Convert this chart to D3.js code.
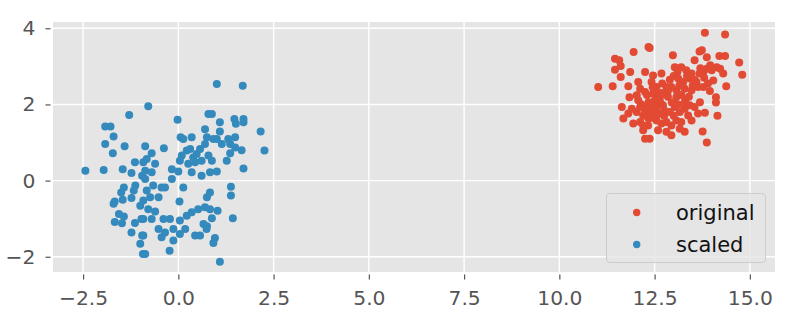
<!DOCTYPE html>
<html>
<head>
<meta charset="utf-8">
<script src="https://cdn.jsdelivr.net/npm/d3@7"></script>
<style>
  body { margin: 0; background: #fff; }
  text { font-family: "DejaVu Sans", sans-serif; }
</style>
</head>
<body>
<div id="chart"></div>
<script>
// original points (x, y)
var original = [
  [11.95,3.38],[12.34,3.51],[11.46,3.20],[11.57,3.16],[11.46,2.91],[11.61,3.01],[11.86,2.85],[11.61,2.72],
  [11.02,2.46],[11.40,2.48],[11.81,2.48],[12.07,2.59],[12.25,2.85],[11.84,2.19],[11.64,1.93],[11.68,1.63],
  [11.94,1.50],[12.20,1.32],[12.25,1.10],[12.07,2.11],[12.03,1.80],[11.81,1.76],
  [13.82,3.88],[14.35,3.84],[14.72,3.10],[14.80,2.78],[14.38,2.48],[14.11,2.19],[14.11,2.05],[14.15,1.70],
  [13.82,1.78],[13.76,1.29],[13.87,1.00],[14.20,3.27],[14.35,3.27],[13.74,3.42],[13.87,3.24],[14.13,2.98],
  [14.22,2.94],[14.30,2.81],[14.04,2.63],[13.78,2.85],[13.87,2.94],[13.96,3.03],[13.78,2.46],[13.69,2.06],
  [12.37,3.48],[12.98,3.29],[13.55,3.16],[13.68,3.39],[12.68,2.81],[13.03,2.98],[13.20,2.98],[13.33,2.90],
  [13.47,2.81],[13.12,2.68],[13.25,2.59],[13.42,2.68],[13.60,2.59],[13.68,2.81],[12.94,2.46],[13.07,2.37],
  [13.29,2.41],[13.47,2.37],[13.64,2.46],[12.46,2.76],[12.42,2.59],[12.55,2.46],[12.46,2.28],[12.64,2.19],
  [12.81,2.46],[13.07,2.19],[12.37,2.02],[12.55,1.93],[12.72,1.98],[13.03,1.93],[13.16,1.80],[13.29,1.89],
  [13.42,1.98],[13.55,1.93],[13.64,1.76],[13.38,1.71],[13.47,1.58],[12.55,1.58],[12.68,1.50],[12.81,1.54],
  [12.94,1.45],[13.07,1.58],[13.20,1.54],[12.59,1.32],[12.81,1.28],[12.94,1.19],[13.16,1.36],[13.29,1.28],
  [12.37,1.10],[12.33,1.80],[12.33,1.45],[12.12,2.41],[12.25,2.33],[12.03,2.24],[12.34,2.06],[12.12,1.93],
  [12.25,1.80],[12.34,1.63],[12.12,1.54],[11.90,1.89],[12.20,1.45],
  [12.60,2.30],[12.70,2.55],[12.90,2.65],[13.00,2.75],[12.85,2.20],[12.95,2.05],[13.10,2.00],[12.50,2.10],
  [12.40,1.90],[12.60,1.75],[12.75,1.70],[12.90,1.80],[13.30,2.10],[13.40,2.20],[13.50,2.50],[13.35,2.75],
  [12.15,2.00],[12.30,2.25],[12.45,1.65],[12.20,1.70],[13.80,2.70],[13.90,2.55],[14.00,2.90],[13.95,2.35],
  [12.50,2.40],[12.65,2.05],[12.75,1.85],[12.85,2.35],[13.15,2.50],[13.20,2.25],[12.40,1.75],[12.55,1.80],
  [13.10,2.85],[13.55,2.65],[13.70,2.95],[12.70,2.30],[12.30,1.95],[13.25,2.00],[13.00,1.70],[12.45,2.45]
];

// scaled points (x, y)
var scaled = [
  [-1.29,1.72],[-1.92,1.42],[-1.78,1.42],[-1.70,1.16],[-1.92,0.96],[-1.41,0.90],[-1.72,0.72],[-2.44,0.26],
  [-1.96,0.28],[-1.46,0.30],[-1.14,0.48],[-1.23,0.20],[-0.95,0.13],[-1.13,-0.13],[-1.17,-0.26],[-1.43,-0.18],
  [-1.50,-0.31],[-1.23,-0.46],[-1.67,-0.55],[-1.70,-0.61],[-1.46,-0.50],[-1.00,-0.66],[-1.56,-0.88],[-1.43,-0.94],
  [-1.67,-1.09],[-1.48,-1.12],[-1.14,-1.11],[-0.97,-1.01],[-1.23,-1.36],[-1.00,-1.66],[-0.95,-1.44],[-0.93,-1.93],
  [-0.79,1.95],[-0.02,1.60],[0.79,1.75],[0.06,1.14],[0.13,1.09],[0.35,1.14],[0.70,1.35],[-0.87,0.90],
  [-0.70,0.72],[-0.38,0.85],[0.22,0.79],[0.31,0.83],[0.09,0.66],[0.04,0.52],[0.39,0.61],[0.48,0.70],
  [0.57,0.83],[0.26,0.44],[0.44,0.48],[0.61,0.52],[0.35,0.22],[0.61,0.13],[-0.17,0.30],[0.00,0.24],
  [-0.17,0.04],[-0.92,0.48],[-0.83,0.57],[-0.61,0.44],[-0.87,0.26],[-0.70,0.22],[-0.87,0.04],[-0.66,-0.13],
  [-0.44,-0.18],[-0.35,-0.18],[-0.83,-0.26],[-0.74,-0.44],[-0.52,-0.44],[-0.92,-0.52],[0.13,-0.18],[0.03,-0.55],
  [-0.61,-0.81],[-0.79,-0.75],[-0.92,-1.01],[-0.70,-1.01],[-0.39,-1.01],[-0.22,-1.01],[0.04,-1.05],[0.22,-0.92],
  [0.35,-0.83],[0.52,-0.75],[0.70,-0.70],[-0.52,-1.27],[-0.35,-1.36],[-0.13,-1.27],[0.04,-1.40],[0.18,-1.27],
  [-0.44,-1.49],[-0.13,-1.57],[0.44,-1.44],[0.57,-1.44],[-0.92,-1.44],[-0.87,-1.93],[-0.23,-1.84],[0.66,-1.14],
  [0.74,-1.27],
  [1.01,2.54],[1.69,2.49],[0.88,1.75],[1.09,1.53],[1.47,1.62],[1.51,1.49],[1.71,1.62],[1.71,1.53],
  [2.16,1.29],[2.26,0.79],[1.09,1.29],[0.92,1.09],[1.01,1.09],[1.14,0.96],[1.31,1.09],[1.49,1.14],
  [1.36,0.96],[1.49,0.87],[1.66,0.80],[1.36,0.72],[0.75,1.14],[0.70,0.96],[0.79,0.66],[0.88,0.52],
  [0.83,0.22],[1.01,0.24],[1.27,0.52],[1.71,0.32],[1.38,-0.16],[1.38,-0.39],[0.83,-0.31],[0.75,-0.44],
  [0.83,-0.75],[1.03,-0.79],[0.88,-0.99],[1.43,-0.99],[0.75,-1.20],[0.96,-1.51],[0.92,-1.64],[1.09,-2.13]
];

var xTicks = [-2.5, 0.0, 2.5, 5.0, 7.5, 10.0, 12.5, 15.0];
var yTicks = [-2, 0, 2, 4];
var seriesNames = ["original", "scaled"];
var seriesColors = ["#E24A33", "#348ABD"];

var width = 800, height = 333;
var plotLeft = 53, plotRight = 775, plotTop = 22, plotBottom = 272;

var svg = d3.select("#chart").append("svg")
    .attr("width", width).attr("height", height);

var x = d3.scaleLinear().domain([-3.29, 15.66]).range([plotLeft, plotRight]);
var y = d3.scaleLinear().domain([-2.40, 4.165]).range([plotBottom, plotTop]);

// panel background
svg.append("rect")
    .attr("x", plotLeft).attr("y", plotTop)
    .attr("width", plotRight - plotLeft).attr("height", plotBottom - plotTop)
    .attr("fill", "#E5E5E5");

// grid
var grid = svg.append("g").attr("stroke", "#fff").attr("stroke-width", 1.4);
grid.selectAll(".gx").data(xTicks).enter().append("line")
    .attr("x1", function(d) { return x(d); }).attr("x2", function(d) { return x(d); })
    .attr("y1", plotTop).attr("y2", plotBottom);
grid.selectAll(".gy").data(yTicks).enter().append("line")
    .attr("y1", function(d) { return y(d); }).attr("y2", function(d) { return y(d); })
    .attr("x1", plotLeft).attr("x2", plotRight);

// axes
var xAxis = svg.append("g")
    .attr("transform", "translate(0," + (plotBottom + 2.5) + ")")
    .call(d3.axisBottom(x).tickValues(xTicks).tickSize(5).tickPadding(11)
      .tickFormat(function(d) { return d3.format(".1f")(d).replace("-", "\u2212"); }));
var yAxis = svg.append("g")
    .attr("transform", "translate(" + (plotLeft - 2.5) + ",0)")
    .call(d3.axisLeft(y).tickValues(yTicks).tickSize(5).tickPadding(10)
      .tickFormat(function(d) { return String(d).replace("-", "\u2212"); }));

[xAxis, yAxis].forEach(function(a) {
  a.select(".domain").remove();
  a.selectAll(".tick line").attr("stroke", "#555").attr("stroke-width", 1.2);
  a.selectAll(".tick text").attr("fill", "#555").attr("font-size", "20.3px")
    .attr("font-family", "DejaVu Sans");
});

// points
var data = [original, scaled];
data.forEach(function(pts, i) {
  svg.append("g").selectAll("circle").data(pts).enter().append("circle")
      .attr("cx", function(d) { return x(d[0]); })
      .attr("cy", function(d) { return y(d[1]); })
      .attr("r", 4)
      .attr("fill", seriesColors[i]);
});

// legend
var legend = svg.append("g");
legend.append("rect")
    .attr("x", 606.5).attr("y", 193.5).attr("width", 159).attr("height", 69)
    .attr("rx", 3.5)
    .attr("fill", "#E5E5E5").attr("fill-opacity", 0.8)
    .attr("stroke", "#CCCCCC").attr("stroke-width", 1);
seriesNames.forEach(function(name, i) {
  var cy = 212.5 + i * 32;
  legend.append("circle").attr("cx", 636.7).attr("cy", cy).attr("r", 3.7)
      .attr("fill", seriesColors[i]);
  legend.append("text").attr("x", 676).attr("y", cy).attr("dy", "0.35em")
      .attr("font-size", "21px").attr("fill", "#111").text(name);
});
</script>
</body>
</html>
